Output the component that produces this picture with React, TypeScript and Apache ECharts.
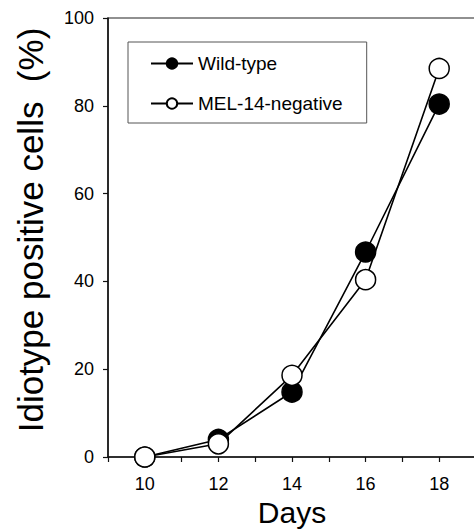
import React, { useEffect, useRef } from 'react';
import * as echarts from 'echarts';

const days = [10, 12, 14, 16, 18];
const wildType = [0, 4, 14.8, 46.7, 80.4];
const mel14Negative = [0, 3, 18.6, 40.4, 88.5];
const xTickLabels = [10, 12, 14, 16, 18];
const seriesNames = ['Wild-type', 'MEL-14-negative'];
const xAxisTitle = 'Days';
const yAxisTitle = 'Idiotype positive cells  (%)';

const FONT = '"Liberation Sans", Arial, Helvetica, sans-serif';

export default function App() {
  const ref = useRef<HTMLDivElement>(null);

  useEffect(() => {
    if (!ref.current) return;
    const chart = echarts.init(ref.current, undefined, { renderer: 'svg' });
    const axisLine = { show: true, lineStyle: { color: '#111', width: 1.5 } };
    chart.setOption({
      animation: false,
      backgroundColor: '#fff',
      textStyle: { fontFamily: FONT, color: '#000' },
      grid: {
        left: 108,
        width: 368,
        top: 18,
        bottom: 74,
        outerBoundsMode: 'none',
        containLabel: false,
        show: true,
        borderColor: '#222',
        borderWidth: 1.2,
        backgroundColor: 'transparent',
      },
      legend: {
        orient: 'vertical',
        left: 128,
        top: 42,
        padding: [12, 24, 10, 22],
        itemGap: 21,
        itemWidth: 42,
        itemHeight: 13,
        borderColor: '#555',
        borderWidth: 1,
        backgroundColor: '#fff',
        borderRadius: 0,
        textStyle: { fontFamily: FONT, fontSize: 19, color: '#000' },
        data: seriesNames,
      },
      graphic: [
        {
          type: 'text',
          x: 30,
          y: 230,
          rotation: Math.PI / 2,
          style: {
            text: yAxisTitle,
            fontFamily: FONT,
            fontSize: 35,
            fill: '#000',
            textAlign: 'center',
            textVerticalAlign: 'middle',
          },
        },
      ],
      xAxis: {
        type: 'value',
        min: 9,
        max: 19,
        interval: 1,
        name: xAxisTitle,
        nameLocation: 'middle',
        nameGap: 39,
        nameTextStyle: { fontFamily: FONT, fontSize: 30, color: '#000' },
        axisLine,
        axisTick: { show: true, inside: false, length: 5, lineStyle: { color: '#111', width: 1.2 } },
        axisLabel: {
          margin: 18,
          fontSize: 18,
          color: '#000',
          fontFamily: FONT,
          formatter: (v: number) => (xTickLabels.includes(v) ? String(v) : ''),
        },
        splitLine: { show: false },
      },
      yAxis: {
        type: 'value',
        min: 0,
        max: 100,
        interval: 20,
        axisLine,
        axisTick: { show: true, inside: false, length: 5, lineStyle: { color: '#111', width: 1.2 } },
        axisLabel: { margin: 14, fontSize: 18, color: '#000', fontFamily: FONT },
        splitLine: { show: false },
      },
      series: [
        {
          name: seriesNames[0],
          type: 'line',
          data: days.map((d, i) => [d, wildType[i]]),
          symbol: 'circle',
          symbolSize: 20,
          lineStyle: { color: '#000', width: 1.6 },
          itemStyle: { color: '#000', borderColor: '#000', borderWidth: 1.5 },
          z: 3,
        },
        {
          name: seriesNames[1],
          type: 'line',
          data: days.map((d, i) => [d, mel14Negative[i]]),
          symbol: 'circle',
          symbolSize: 20,
          lineStyle: { color: '#000', width: 1.6 },
          itemStyle: { color: '#fff', borderColor: '#000', borderWidth: 1.5 },
          z: 4,
        },
      ],
    });
    return () => chart.dispose();
  }, []);

  return <div ref={ref} style={{ width: 474, height: 531, position: 'absolute', left: 0, top: 0 }} />;
}
